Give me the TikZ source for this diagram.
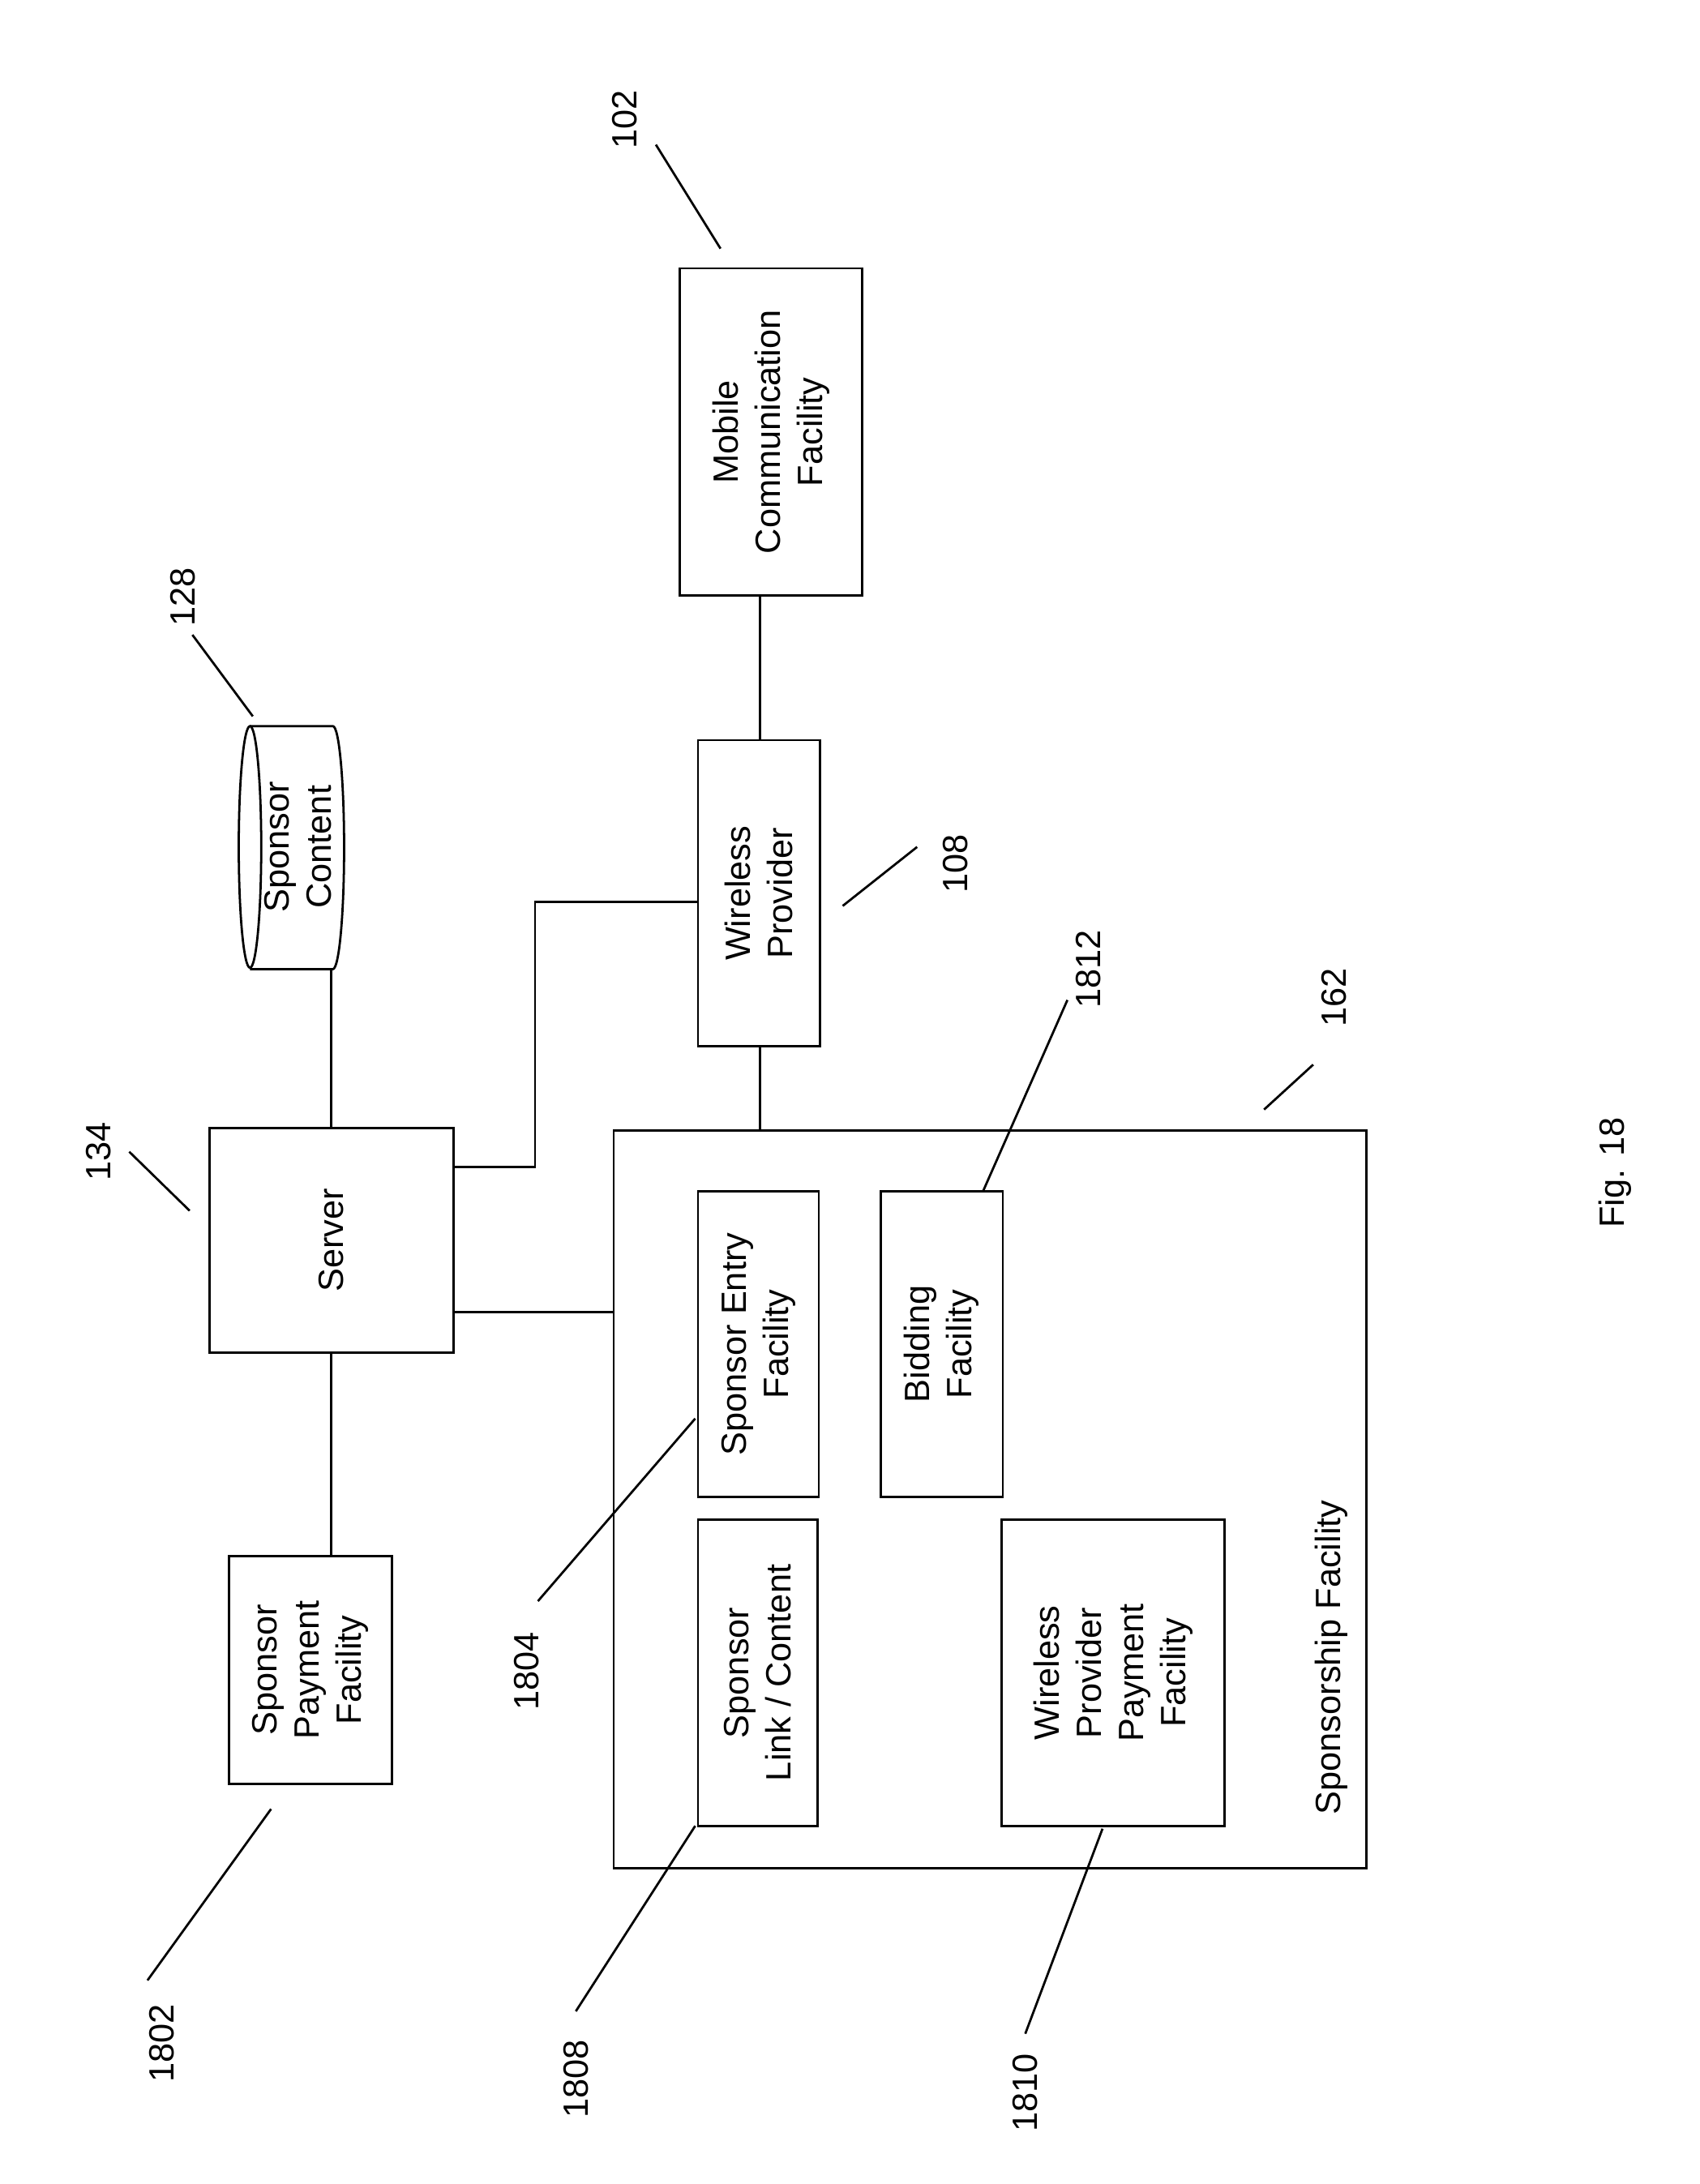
\documentclass[tikz,border=0pt]{standalone}
\usepackage{fontspec}
\setmainfont{Liberation Sans}
\usetikzlibrary{fit}
\begin{document}
\begin{tikzpicture}[x=0.5pt,y=-0.5pt,
  box/.style={draw,line width=0.8pt,inner sep=0pt},
  txt/.style={rotate=90,align=center,font=\fontsize{12.5}{15}\selectfont},
  lbl/.style={rotate=90,font=\fontsize{12.5}{15}\selectfont},
  ln/.style={line width=0.8pt}]
\useasboundingbox (0,0) rectangle (1210,1555);
% boxes
\node[box,fit={(484,191)(614,424)}] (mcf) {};
\node[txt] at (mcf.center) {Mobile\\Communication\\Facility};
\node[box,fit={(497,527)(584,745)}] (wp) {};
\node[txt] at (wp.center) {Wireless\\Provider};
\node[box,fit={(149,803)(323,963)}] (srv) {};
\node[txt] at (srv.center) {Server};
\node[box,fit={(163,1108)(279,1270)}] (spf) {};
\node[txt] at (spf.center) {Sponsor\\Payment\\Facility};
\node[box,fit={(437,805)(973,1330)}] (sf) {};
\node[lbl] at (948,1180) {Sponsorship Facility};
\node[box,fit={(497,848)(583,1066)}] (sef) {};
\node[txt] at (sef.center) {Sponsor Entry\\Facility};
\node[box,fit={(627,848)(714,1066)}] (bf) {};
\node[txt] at (bf.center) {Bidding\\Facility};
\node[box,fit={(497,1082)(582,1300)}] (slc) {};
\node[txt] at (slc.center) {Sponsor\\Link / Content};
\node[box,fit={(713,1082)(872,1300)}] (wppf) {};
\node[txt] at (wppf.center) {Wireless\\Provider\\Payment\\Facility};
% cylinder
\node[inner sep=0pt,fit={(170,517)(245,690)}] (sc) {};
\draw[ln] (178,603) ellipse [x radius=8,y radius=86];
\draw[ln] (178,517) -- (237,517) arc[start angle=-90,end angle=90,x radius=8,y radius=86.5] -- (178,690);
\node[txt] at (212,603) {Sponsor\\Content};
% connectors
\draw[ln] (mcf.south -| 541,0) -- (wp.north -| 541,0);
\draw[ln] (wp.south -| 541,0) -- (sf.north -| 541,0);
\draw[ln] (srv.east |- 0,831) -- (381,831) -- (381,642) -- (wp.west |- 0,642);
\draw[ln] (srv.east |- 0,934) -- (sf.west |- 0,934);
\draw[ln] (srv.north) -- (sc.south -| srv.north);
\draw[ln] (srv.south) -- (spf.north -| srv.south);
% labels
\node[lbl] (l102) at (445,85) {102};
\coordinate (a102) at (513,177); \draw[ln] (467,103) -- (a102);
\node[lbl] (l128) at (130,425) {128};
\coordinate (a128) at (180,510); \draw[ln] (137,452) -- (a128);
\node[lbl] (l134) at (70,820) {134};
\coordinate (a134) at (135,862); \draw[ln] (92,820) -- (a134);
\node[lbl] (l108) at (680,615) {108};
\coordinate (a108) at (600,645); \draw[ln] (653,603) -- (a108);
\node[lbl] (l1812) at (775,690) {1812};
\coordinate (a1812) at (700,848); \draw[ln] (760,712) -- (a1812);
\node[lbl] (l162) at (950,710) {162};
\coordinate (a162) at (900,790); \draw[ln] (935,758) -- (a162);
\node[lbl] (l1804) at (375,1190) {1804};
\coordinate (a1804) at (495,1010); \draw[ln] (383,1140) -- (a1804);
\node[lbl] (l1802) at (115,1455) {1802};
\coordinate (a1802) at (193,1288); \draw[ln] (105,1410) -- (a1802);
\node[lbl] (l1808) at (410,1480) {1808};
\coordinate (a1808) at (495,1300); \draw[ln] (410,1432) -- (a1808);
\node[lbl] (l1810) at (730,1490) {1810};
\coordinate (a1810) at (785,1302); \draw[ln] (730,1448) -- (a1810);
\node[lbl] (fig) at (1150,835) {Fig. 18};
\end{tikzpicture}
\end{document}
